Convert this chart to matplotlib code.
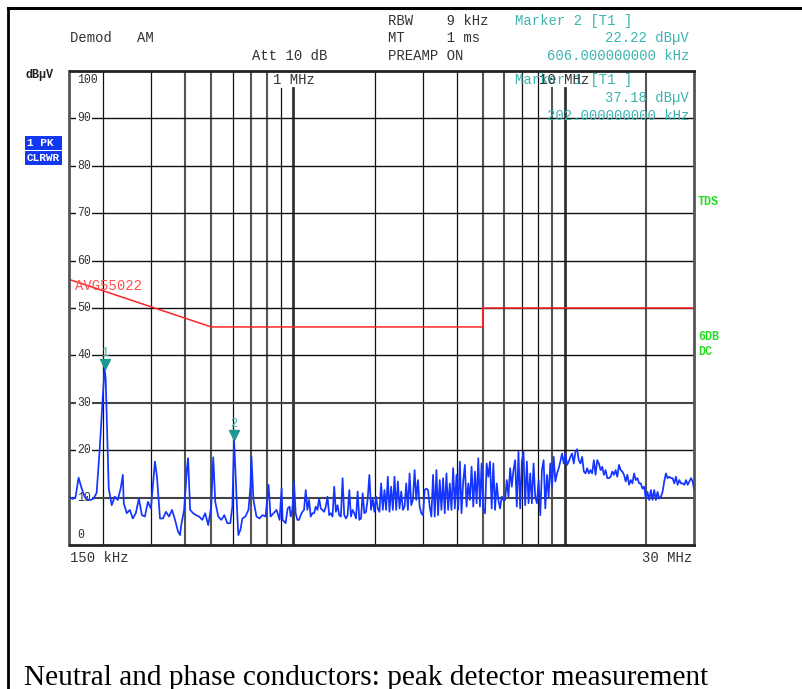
import matplotlib
matplotlib.use("Agg")
import matplotlib.pyplot as plt
from matplotlib.lines import Line2D
from matplotlib.ticker import NullLocator
from matplotlib.transforms import offset_copy

W, H = 803, 689

# ---------------- data ----------------
trace_freq_khz = [
    150.0, 153.9, 157.9, 162.0, 166.2, 170.5, 174.9, 179.4, 184.1, 188.8, 193.7, 198.8, 202.0, 203.9,
    209.2, 214.6, 220.2, 225.9, 231.7, 235.8, 237.7, 243.9, 250.2, 256.7, 263.3, 270.2, 277.2, 284.4,
    291.7, 299.3, 307.0, 309.7, 315.0, 323.2, 331.5, 340.1, 348.9, 358.0, 367.3, 376.8, 383.3, 386.5,
    396.6, 406.8, 410.3, 417.4, 428.2, 439.3, 450.7, 462.4, 474.3, 486.6, 499.2, 507.8, 516.6, 530.0,
    543.8, 557.8, 572.3, 587.1, 597.2, 606.0, 612.6, 623.2, 628.5, 639.5, 650.3, 667.1, 684.6, 696.2,
    702.3, 714.3, 732.8, 751.8, 771.3, 791.3, 804.8, 811.8, 825.9, 847.2, 869.1, 891.6, 907.0, 914.8,
    938.4, 954.6, 971.0,
    979.5, 993.3, 1007.5, 1021.9, 1036.8, 1051.6, 1066.7, 1081.7, 1097.2, 1113.0, 1128.5, 1144.6,
    1161.4, 1178.2, 1194.9, 1212.0, 1229.4, 1247.1, 1264.8, 1283.0, 1301.4, 1319.9, 1338.8, 1358.1,
    1377.5, 1397.1, 1417.1, 1437.5, 1458.2, 1478.7, 1500.0, 1521.6, 1543.1, 1565.3, 1587.8, 1610.6,
    1633.4, 1656.9, 1680.8, 1704.8, 1729.1, 1753.9, 1779.1, 1804.4, 1830.3, 1856.6, 1883.2, 1910.0,
    1937.3, 1965.3, 1993.4, 2021.7, 2050.8, 2080.2, 2109.8, 2140.1, 2170.8, 2201.7, 2233.2, 2265.2,
    2297.6, 2330.6, 2363.7, 2397.6, 2432.1, 2466.6, 2502.2, 2538.0, 2574.5, 2610.8, 2648.3, 2686.4,
    2724.9, 2763.5, 2803.2, 2843.6, 2884.7, 2925.5, 2967.5, 3010.2, 3052.8, 3096.8, 3141.2, 3186.3,
    3231.6, 3278.1, 3325.2, 3372.9, 3420.5, 3469.7, 3519.6, 3569.3, 3620.6, 3672.6, 3725.6, 3778.1,
    3832.4, 3887.6, 3943.4, 3999.2, 4056.8, 4115.1, 4173.3, 4233.3, 4294.2, 4356.0, 4417.7, 4481.1,
    4545.6, 4611.0, 4676.4, 4743.4, 4811.7, 4879.8, 4949.8, 5021.1, 5093.4, 5165.3, 5239.5, 5315.0,
    5391.4, 5467.7, 5546.4, 5626.2, 5705.7, 5787.8, 5871.2,
    5955.5, 6039.6, 6126.6, 6214.7, 6304.2, 6393.3, 6485.4, 6578.0, 6671.6, 6766.8, 6864.0, 6962.4,
    7060.8, 7163.0, 7266.0, 7370.4, 7474.7, 7582.1, 7691.1, 7800.0, 7912.4, 8025.9, 8141.4, 8256.3,
    8375.0, 8495.4, 8617.8, 8739.8, 8865.6, 8993.0, 9122.1, 9251.3, 9384.0, 9518.7, 9653.3, 9792.0,
    9933.3, 10076, 10219, 10366, 10516, 10667, 10817, 10972, 11130, 11287, 11449, 11614,
    11781, 11947, 12119, 12294, 12470, 12646, 12828, 13013, 13197, 13387, 13580, 13775,
    13970, 14171, 14375, 14581, 14787, 15000, 15216, 15431, 15653, 15878, 16106, 16334,
    16569, 16807, 17048, 17291, 17540, 17793, 18044, 18303, 18566, 18832, 19100, 19373,
    19653, 19934, 20217, 20508, 20802, 21098, 21401, 21708, 22017, 22332, 22652, 22976,
    23305, 23637, 23977, 24321, 24668, 25021, 25380, 25742, 26111, 26486, 26864, 27249,
    27640, 28035, 28435, 28842, 29255, 29675, 30000,
]
trace_level_dbuv = [
    10.1, 9.7, 10.1, 14.2, 12.0, 10.2, 9.6, 9.5, 9.8, 11.0, 20.0, 31.0, 37.2, 35.0,
    12.0, 8.4, 10.2, 9.5, 12.0, 14.8, 8.8, 6.7, 7.4, 5.6, 6.7, 9.8, 6.3, 6.0,
    9.1, 7.7, 15.1, 17.6, 14.4, 5.6, 5.6, 7.0, 6.0, 7.4, 5.3, 2.8, 2.1, 4.0,
    7.4, 16.5, 18.3, 7.4, 6.7, 6.3, 6.0, 5.3, 6.7, 4.2, 8.1, 18.5, 9.1, 6.0,
    5.3, 6.3, 4.6, 4.6, 8.1, 22.2, 15.8, 6.0, 2.1, 3.2, 5.6, 6.0, 7.4, 12.3,
    18.6, 9.5, 6.0, 5.6, 6.3, 6.0, 10.2, 12.7, 6.0, 6.7, 7.4, 5.3, 12.0, 5.3,
    4.6, 7.7, 8.1,
    6.0, 7.4, 13.4, 6.7, 5.3, 5.3, 6.3, 7.0, 7.4, 11.6, 7.4, 9.5,
    6.0, 6.7, 6.7, 8.1, 7.4, 9.8, 7.7, 7.4, 7.0, 8.1, 10.2, 6.3,
    6.7, 6.0, 12.3, 7.0, 8.4, 6.3, 6.0, 14.1, 6.3, 5.6, 6.3, 11.6,
    6.0, 7.4, 6.7, 5.6, 11.3, 5.3, 5.6, 10.9, 6.7, 7.0, 9.8, 14.8,
    7.4, 9.8, 7.0, 10.2, 7.7, 7.0, 13.0, 7.4, 11.6, 7.4, 14.4, 7.0,
    12.3, 7.4, 14.4, 7.4, 13.4, 7.7, 11.3, 7.4, 8.1, 13.0, 7.4, 15.1,
    8.4, 9.5, 15.8, 9.5, 13.7, 8.1, 6.7, 6.3, 11.6, 11.9, 11.6, 8.1,
    6.0, 14.8, 6.0, 15.8, 6.3, 13.7, 7.4, 14.1, 6.7, 15.1, 7.4, 13.0,
    7.4, 16.2, 7.7, 14.8, 7.4, 17.6, 6.7, 13.4, 16.9, 8.1, 13.0, 9.5,
    16.5, 8.1, 15.5, 8.8, 18.3, 8.1, 17.2, 7.4, 6.7, 17.2, 14.4, 17.6,
    7.7, 17.2, 7.4, 13.0, 9.5, 7.7, 10.2,
    9.5, 9.5, 13.7, 10.2, 16.2, 12.3, 15.8, 17.9, 8.1, 19.7, 7.7, 17.6,
    19.7, 8.4, 17.6, 8.8, 15.1, 8.8, 17.2, 10.2, 8.8, 13.7, 6.3, 15.8,
    17.9, 7.7, 14.8, 10.2, 17.2, 12.3, 18.6, 13.4, 15.1, 16.2, 17.6, 19.3,
    17.2, 19.3, 16.9, 17.6, 18.6, 19.3, 17.2, 19.7, 20.2, 17.9, 17.2, 18.6,
    15.5, 15.1, 16.2, 15.1, 15.8, 15.1, 17.9, 14.8, 17.9, 17.2, 15.8, 16.5,
    14.8, 15.8, 14.1, 14.1, 14.4, 15.5, 14.8, 15.8, 14.4, 16.9, 15.8, 15.5,
    14.8, 13.4, 14.8, 12.7, 13.7, 13.0, 15.1, 13.7, 14.1, 13.0, 13.0, 11.9,
    12.3, 9.8, 11.2, 9.5, 11.6, 9.5, 11.6, 9.5, 11.2, 9.8, 10.2, 11.2,
    13.4, 15.1, 14.1, 14.4, 14.1, 14.1, 13.0, 14.4, 12.7, 13.7, 13.0, 13.0,
    12.7, 13.7, 12.7, 13.4, 14.1, 13.4, 11.8,
]

limit_freq_khz = [150, 500, 5000, 5000, 30000]
limit_level_dbuv = [56, 46, 46, 50, 50]
limit_name = "AVG55022"

marker_freq_khz = [202, 606]
marker_level_dbuv = [37.18, 22.22]
marker_names = ["1", "2"]

grid_freq_khz = [200, 300, 400, 500, 600, 700, 800, 900, 1000,
                 2000, 3000, 4000, 5000, 6000, 7000, 8000, 9000, 10000, 20000]
level_ticks = [10, 20, 30, 40, 50, 60, 70, 80, 90]
x_start_label = "150 kHz"
x_stop_label = "30 MHz"
caption = "Neutral and phase conductors: peak detector measurement"

# ---------------- styles ----------------
MONO = "Liberation Mono"
TEAL = "#3bb5b0"
GRID_DARK = {400, 500, 700, 800, 5000, 6000, 9000, 20000}
GRID_BOLD = {1000, 10000}
GRID_SHORT = {900, 1000, 9000, 10000}
HGRID_GREY = {10, 30}


def fx(x):
    return x / W


def fy(y):
    return 1 - y / H


fig = plt.figure(figsize=(W / 100, H / 100), dpi=100)
fig.patch.set_facecolor("white")

ax_left, ax_right, ax_top, ax_bot = 69.5, 694.0, 71.0, 545.0
ax = fig.add_axes([fx(ax_left), fy(ax_bot), (ax_right - ax_left) / W, (ax_bot - ax_top) / H])
ax.set_xscale("log")
ax.set_xlim(150, 30000)
ax.set_ylim(0, 100)
ax.xaxis.set_major_locator(NullLocator())
ax.xaxis.set_minor_locator(NullLocator())
ax.yaxis.set_major_locator(NullLocator())
ax.yaxis.set_minor_locator(NullLocator())
for name, sp in ax.spines.items():
    sp.set_linewidth(2.0)
    sp.set_color("#222" if name in ("top", "bottom") else "#555")

# grid
short_top = 1 - (88 - ax_top) / (ax_bot - ax_top)
for f in grid_freq_khz:
    if f in GRID_BOLD:
        col, lw = "#333333", 2.0
    elif f in GRID_DARK:
        col, lw = "#555555", 1.5
    else:
        col, lw = "#111111", 0.9
    ymax = short_top if f in GRID_SHORT else 1.0
    ax.axvline(f, ymin=0, ymax=ymax, color=col, lw=lw, zorder=1)
for v in level_ticks:
    if v in HGRID_GREY:
        ax.axhline(v, color="#444444", lw=1.5, zorder=1)
    else:
        ax.axhline(v, color="#111111", lw=1.0, zorder=1)

# level labels inside plot
ytr = ax.get_yaxis_transform()
lab_kw = dict(transform=ytr, family=MONO, fontsize=8.3, color="#333333", va="center", ha="left", zorder=2,
              bbox=dict(facecolor="white", edgecolor="none", pad=0.6))
ax.text(0.012, 98.1, "100", **lab_kw)
for v in level_ticks:
    ax.text(0.012, v, str(v), **lab_kw)
ax.text(0.012, 2.1, "0", **lab_kw)

# limit line
ax.plot(limit_freq_khz, limit_level_dbuv, color="#ff2424", lw=1.1, zorder=2)
ax.text(0.009, 54.7, limit_name, transform=ytr, family=MONO, fontsize=10, color="#ff5050",
        va="center", ha="left", zorder=2)

# trace
ax.plot(trace_freq_khz, trace_level_dbuv, color="#1434ff", lw=1.25, zorder=3)

# markers
tri_tr = offset_copy(ax.transData, fig=fig, x=0, y=3.5, units="points")
ax.plot(marker_freq_khz, marker_level_dbuv, linestyle="none", marker="v", ms=6.5,
        color="#1c9a92", transform=tri_tr, zorder=4, clip_on=False)
lab_tr = offset_copy(ax.transData, fig=fig, x=0, y=11.5, units="points")
for f, v, n in zip(marker_freq_khz, marker_level_dbuv, marker_names):
    ax.text(f, v, n, transform=lab_tr, family=MONO, fontsize=8.5, color=TEAL,
            ha="center", va="center", zorder=4)

# x range labels
fig.text(fx(70), fy(558), x_start_label, family=MONO, fontsize=10, color="#333", va="center", ha="left")
fig.text(fx(692), fy(558), x_stop_label, family=MONO, fontsize=10, color="#333", va="center", ha="right")

# decade labels at top
fig.text(fx(273), fy(80), "1 MHz", family=MONO, fontsize=10, color="#333", va="center", ha="left")

# header
hk = dict(family=MONO, fontsize=10, color="#333", va="center")
fig.text(fx(70), fy(38), "Demod   AM", ha="left", **hk)
fig.text(fx(252), fy(56), "Att 10 dB", ha="left", **hk)
fig.text(fx(388), fy(21), "RBW    9 kHz", ha="left", **hk)
fig.text(fx(388), fy(38), "MT     1 ms", ha="left", **hk)
fig.text(fx(388), fy(56), "PREAMP ON", ha="left", **hk)

mk = dict(family=MONO, fontsize=10, color=TEAL, va="center")
fig.text(fx(515), fy(21), "Marker 2 [T1 ]", ha="left", **mk)
fig.text(fx(689), fy(38), "22.22 dBµV", ha="right", **mk)
fig.text(fx(689), fy(56), "606.000000000 kHz", ha="right", **mk)
fig.text(fx(515), fy(80), "Marker 1 [T1 ]", ha="left", **mk)
fig.text(fx(539), fy(80), "10 MHz", family=MONO, fontsize=10, color="#333", va="center", ha="left")
fig.text(fx(689), fy(98), "37.18 dBµV", ha="right", **mk)
fig.text(fx(689), fy(116), "202.000000000 kHz", ha="right", **mk)

# left side labels
fig.text(fx(26), fy(75), "dBµV", family=MONO, fontsize=8.5, fontweight="bold", color="#222", va="center", ha="left")
box_kw = dict(family=MONO, fontsize=8, fontweight="bold", color="white", va="center", ha="left")
fig.text(fx(27), fy(143), "1 PK ", bbox=dict(facecolor="#1238f0", edgecolor="none", pad=1.2), **box_kw)
fig.text(fx(27), fy(158), "CLRWR", bbox=dict(facecolor="#1238f0", edgecolor="none", pad=1.2), **box_kw)

# right side labels
gk = dict(family=MONO, fontsize=8.5, fontweight="bold", color="#22dd22", va="center", ha="left")
fig.text(fx(698), fy(202), "TDS", **gk)
fig.text(fx(698), fy(337), "6DB", **gk)
fig.text(fx(698), fy(352), "DC", **gk)

# outer frame
fig.add_artist(Line2D([fx(8), 1.0], [fy(8), fy(8)], transform=fig.transFigure, color="black", lw=2.2))
fig.add_artist(Line2D([fx(8), fx(8)], [fy(8), 0.0], transform=fig.transFigure, color="black", lw=2.0))

# caption
fig.text(fx(24), fy(685), caption, family="Liberation Serif", fontsize=21.2, color="black",
         va="baseline", ha="left")

fig.savefig("out.png", dpi=100, facecolor="white")
